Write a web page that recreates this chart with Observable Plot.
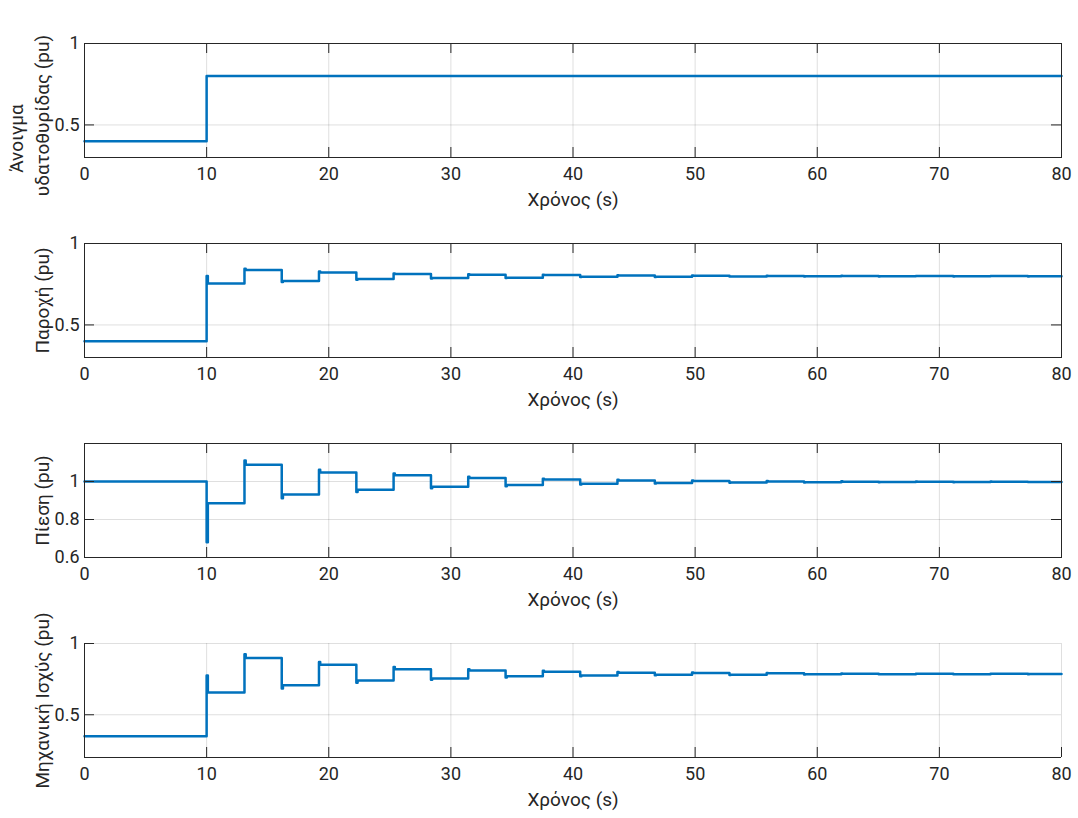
<!DOCTYPE html>
<html><head><meta charset="utf-8">
<script src="https://cdn.jsdelivr.net/npm/d3@7"></script>
<script src="https://cdn.jsdelivr.net/npm/@observablehq/plot@0.6"></script>
<style>
body{margin:0;background:#fff;}
#chart{width:1078px;height:818px;padding-top:13px;box-sizing:border-box;}
#chart svg{display:block;}
</style></head><body><div id="chart"></div>
<script>
// ---- data ----
const xTicks = [0, 10, 20, 30, 40, 50, 60, 70, 80];
const stepTimes = [0, 10, 13.1, 16.15, 19.2, 22.26, 25.31, 28.37, 31.42, 34.48, 37.53, 40.59, 43.64, 46.7, 49.75, 52.81, 55.86, 58.92, 61.97, 65.03, 68.08, 71.14, 74.19, 77.25, 80];

const gateTimes = [0, 10, 80];
const gateLevels = [0.4, 0.8, 0.8];

const flowLevels = [0.40, 0.755, 0.837, 0.770, 0.822, 0.782, 0.812, 0.788, 0.808, 0.790, 0.806, 0.796, 0.804, 0.796, 0.802, 0.798, 0.801, 0.799, 0.801, 0.799, 0.800, 0.799, 0.800, 0.799, 0.799];
const flowSpikes = [null, 0.80, 0.845, 0.764, 0.828, 0.777, 0.816, 0.785, 0.811, 0.788, 0.808, 0.795, 0.805, 0.795, 0.803, 0.797, 0.802, 0.798, 0.802, 0.798, 0.801, 0.798, 0.801, 0.798, null];

const pressureLevels = [1.0, 0.885, 1.088, 0.932, 1.048, 0.956, 1.033, 0.973, 1.018, 0.981, 1.010, 0.988, 1.005, 0.992, 1.002, 0.995, 1.000, 0.996, 0.999, 0.997, 0.999, 0.997, 0.999, 0.998, 0.998];
const pressureSpikes = [null, 0.68, 1.11, 0.912, 1.062, 0.945, 1.042, 0.965, 1.025, 0.975, 1.015, 0.984, 1.009, 0.989, 1.005, 0.993, 1.002, 0.995, 1.001, 0.996, 1.000, 0.996, 1.000, 0.997, null];

const powerLevels = [0.35, 0.656, 0.898, 0.707, 0.851, 0.740, 0.819, 0.754, 0.810, 0.770, 0.801, 0.775, 0.795, 0.781, 0.793, 0.781, 0.791, 0.784, 0.788, 0.785, 0.787, 0.785, 0.787, 0.786, 0.786];
const powerSpikes = [null, 0.775, 0.925, 0.685, 0.870, 0.725, 0.835, 0.745, 0.820, 0.762, 0.808, 0.770, 0.800, 0.778, 0.797, 0.779, 0.793, 0.782, 0.790, 0.784, 0.788, 0.784, 0.788, 0.785, null];

const yLabels = [["Άνοιγμα", "υδατοθυρίδας (pu)"], ["Παροχή (pu)"], ["Πίεση (pu)"], ["Μηχανική Ισχύς (pu)"]];
const xLabel = "Χρόνος (s)";
const yDomains = [[0.3, 1], [0.3, 1], [0.6, 1.2], [0.2, 1]];
const yTicks = [[0.5, 1], [0.5, 1], [0.6, 0.8, 1], [0.5, 1]];

// ---- build step series ----
function build(times, levels, spikes) {
  const out = [];
  times.forEach((t, i) => {
    if (spikes && spikes[i] != null) {
      out.push({t, v: spikes[i]});
      out.push({t: t + 0.1, v: levels[i]});
    } else out.push({t, v: levels[i]});
  });
  return out;
}
const series = [
  build(gateTimes, gateLevels, null),
  build(stepTimes, flowLevels, flowSpikes),
  build(stepTimes, pressureLevels, pressureSpikes),
  build(stepTimes, powerLevels, powerSpikes)
];
const boxed = [true, true, true, false];

const W = 1078, H = 200, ML = 84, MR = 17, MT = 30, MB = 56;
const FW = W - ML - MR, FH = H - MT - MB;
const ink = "#262626";
const fmt = d => String(d);

series.forEach((data, k) => {
  const marks = [
    Plot.gridX(xTicks, {stroke: ink, strokeOpacity: 0.15}),
    Plot.gridY(yTicks[k], {stroke: ink, strokeOpacity: 0.15}),
    Plot.line(data, {x: "t", y: "v", curve: "step-after", stroke: "#0072BD", strokeWidth: 2.5}),
    Plot.axisX(xTicks, {tickSize: 0, tickPadding: 10, fontSize: 18, color: ink, label: null, tickFormat: fmt}),
    Plot.axisY(yTicks[k], {tickSize: 0, tickPadding: 5, fontSize: 18, color: ink, label: null, tickFormat: fmt}),
    Plot.tickX(xTicks, {x: d => d, insetTop: FH - 10, stroke: ink}),
    Plot.tickY(yTicks[k], {y: d => d, insetRight: FW - 10, stroke: ink})
  ];
  if (boxed[k]) {
    marks.push(
      Plot.tickX(xTicks, {x: d => d, insetBottom: FH - 10, stroke: ink}),
      Plot.tickY(yTicks[k], {y: d => d, insetLeft: FW - 10, stroke: ink}),
      Plot.frame({stroke: ink})
    );
  } else {
    marks.push(Plot.ruleX([xTicks[0]], {stroke: ink}), Plot.ruleY([yDomains[k][0]], {stroke: ink}));
  }
  const lab = yLabels[k];
  if (lab.length === 2) {
    marks.push(Plot.text([lab[0]], {frameAnchor: "left", dx: -62, dy: 38, rotate: -90, textAnchor: "middle", lineAnchor: "bottom", fontSize: 19, fill: ink}));
    marks.push(Plot.text([lab[1]], {frameAnchor: "left", dx: -36, dy: 15, rotate: -90, textAnchor: "middle", lineAnchor: "bottom", fontSize: 19, fill: ink}));
  } else {
    marks.push(Plot.text([lab[0]], {frameAnchor: "left", dx: -36, rotate: -90, textAnchor: "middle", lineAnchor: "bottom", fontSize: 19, fill: ink}));
  }
  marks.push(Plot.text([xLabel], {frameAnchor: "bottom", dy: 48, lineAnchor: "bottom", fontSize: 19, fill: ink}));

  const svg = Plot.plot({
    width: W, height: H,
    marginLeft: ML, marginRight: MR, marginTop: MT, marginBottom: MB,
    style: {fontFamily: "Roboto, 'Liberation Sans', sans-serif", fontSize: "18px", background: "#fff", overflow: "visible"},
    x: {domain: [0, 80]},
    y: {domain: yDomains[k]},
    marks
  });
  document.getElementById("chart").appendChild(svg);
});
</script></body></html>
